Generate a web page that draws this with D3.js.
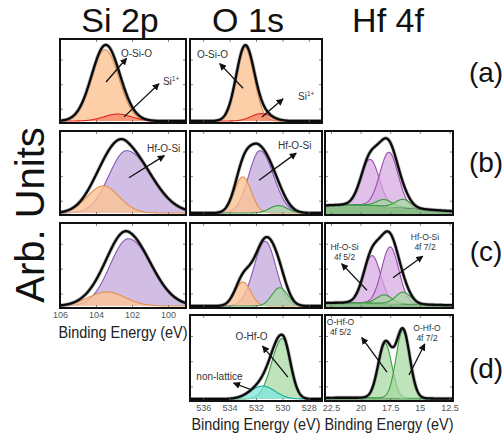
<!DOCTYPE html>
<html>
<head>
<meta charset="utf-8">
<script src="https://cdn.jsdelivr.net/npm/d3@7"></script>
<style>
  body { margin: 0; background: #fff; }
  svg { display: block; font-family: "Liberation Sans", Arial, Helvetica, sans-serif; }
</style>
</head>
<body>
<svg id="chart" width="504" height="438"></svg>
<script>
// Core levels (columns) and samples (rows)
const coreLevels = ["Si 2p", "O 1s", "Hf 4f"];
const sampleLabels = ["(a)", "(b)", "(c)", "(d)"];
const axisTitle = "Binding Energy (eV)";
const yTitle = "Arb. Units";

// Binding-energy windows (eV), high to low
const siRange = [106, 99];
const oRange = [537, 527];
const hfRange = [23, 12.2];

// Labelled binding-energy ticks
const siTicks = [106, 104, 102, 100];
const oTicks = [536, 534, 532, 530, 528];
const hfTicks = [22.5, 20, 17.5, 15, 12.5];
const intensityTicks = [0.15, 0.45, 0.75];

// Fitted components: [species, centre (eV), height, HWHM high-BE side, HWHM low-BE side]
const siA = [
  ["O-Si-O", 103.5, 0.87, 0.9, 0.9],
  ["Si1+", 102.8, 0.085, 0.9, 0.9]
];
const oA = [
  ["O-Si-O", 532.83, 0.9, 0.8, 0.8],
  ["Si1+", 531.6, 0.09, 0.9, 0.9]
];
const siB = [
  ["Hf-O-Si", 102.3, 0.76, 1.15, 1.6],
  ["O-Si-O", 103.6, 0.33, 1.05, 1.05]
];
const oB = [
  ["Hf-O-Si", 531.7, 0.76, 1.0, 1.2],
  ["O-Si-O", 533.0, 0.44, 0.75, 0.75],
  ["O-Hf-O", 530.3, 0.09, 0.8, 0.8]
];
const hfB = [
  ["background", 21, 0.1, 6, 6],
  ["Hf-O-Si 4f5/2", 19.2, 0.56, 0.9, 0.9],
  ["Hf-O-Si 4f7/2", 17.6, 0.66, 0.9, 0.9],
  ["O-Hf-O 4f5/2", 18.0, 0.08, 0.75, 0.75],
  ["O-Hf-O 4f7/2", 16.4, 0.10, 0.75, 0.75]
];
const siC = [
  ["Hf-O-Si", 102.2, 0.81, 1.2, 1.5],
  ["O-Si-O", 103.4, 0.17, 1.2, 1.2]
];
const oC = [
  ["Hf-O-Si", 531.3, 0.78, 1.0, 0.95],
  ["O-Si-O", 533.0, 0.29, 0.7, 0.7],
  ["O-Hf-O", 530.2, 0.22, 0.7, 0.7]
];
const hfC = [
  ["background", 21, 0.04, 6, 6],
  ["Hf-O-Si 4f5/2", 19.03, 0.57, 0.85, 0.85],
  ["Hf-O-Si 4f7/2", 17.5, 0.68, 0.85, 0.85],
  ["O-Hf-O 4f5/2", 18.0, 0.10, 0.75, 0.75],
  ["O-Hf-O 4f7/2", 16.4, 0.14, 0.75, 0.75]
];
const oD = [
  ["O-Hf-O", 530.0, 0.72, 0.95, 0.7],
  ["non-lattice", 531.5, 0.155, 1.1, 1.1]
];
const hfD = [
  ["background", 21, 0.015, 6, 6],
  ["O-Hf-O 4f5/2", 17.94, 0.65, 0.68, 0.68],
  ["O-Hf-O 4f7/2", 16.42, 0.81, 0.68, 0.68]
];

// ---- layout ----
const colX = [[60, 186], [190, 322], [325, 453]];
const rowY = [[39, 123], [131, 215], [223, 308], [315, 401]];
const ranges = [siRange, oRange, hfRange];
const tickSets = [siTicks, oTicks, hfTicks];

const panels = [
  { col: 0, row: 0, comps: siA },
  { col: 1, row: 0, comps: oA },
  { col: 0, row: 1, comps: siB },
  { col: 1, row: 1, comps: oB },
  { col: 2, row: 1, comps: hfB },
  { col: 0, row: 2, comps: siC, labelled: true },
  { col: 1, row: 2, comps: oC },
  { col: 2, row: 2, comps: hfC },
  { col: 1, row: 3, comps: oD, labelled: true },
  { col: 2, row: 3, comps: hfD, labelled: true }
];

// Callouts, anchored in (eV, intensity) of their panel
const callouts = [
  { panel: 0, lines: ["O-Si-O"], at: [102.61, 0.78], anchor: "start", from: [103.44, 0.476], to: [102.3, 0.765] },
  { panel: 0, lines: ["Si"], sup: "1+", at: [100.28, 0.44], anchor: "start", from: [102.44, 0.05], to: [100.5, 0.455] },
  { panel: 1, lines: ["O-Si-O"], at: [536.47, 0.77], anchor: "start", from: [532.98, 0.40], to: [534.75, 0.70] },
  { panel: 1, lines: ["Si"], sup: "1+", at: [528.82, 0.256], anchor: "start", from: [531.55, 0.05], to: [529.95, 0.27] },
  { panel: 2, lines: ["Hf-O-Si"], at: [101.17, 0.74], anchor: "start", from: [102.17, 0.43], to: [100.2, 0.70] },
  { panel: 3, lines: ["Hf-O-Si"], at: [530.33, 0.78], anchor: "start", from: [531.77, 0.40], to: [528.95, 0.73] },
  { panel: 7, lines: ["Hf-O-Si", "4f 5/2"], at: [21.35, 0.68], anchor: "middle", from: [19.46, 0.19], to: [21.6, 0.51] },
  { panel: 7, lines: ["Hf-O-Si", "4f 7/2"], at: [14.56, 0.79], anchor: "middle", from: [17.26, 0.34], to: [14.75, 0.6] },
  { panel: 8, lines: ["O-Hf-O"], at: [532.34, 0.70], anchor: "middle", from: [529.58, 0.26], to: [531.5, 0.63] },
  { panel: 8, lines: ["non-lattice"], at: [534.77, 0.226], anchor: "middle", from: [532.3, 0.107], to: [533.7, 0.19] },
  { panel: 9, lines: ["O-Hf-O", "4f 5/2"], at: [21.69, 0.88], anchor: "middle", from: [17.77, 0.32], to: [19.9, 0.73] },
  { panel: 9, lines: ["O-Hf-O", "4f 7/2"], at: [14.39, 0.81], anchor: "middle", from: [15.91, 0.286], to: [14.58, 0.655] }
];

// Component colours by species
function speciesStyle(name) {
  if (name === "background") return { fill: "#74b374", stroke: "#4d934f", op: 0.85 };
  if (name === "Si1+") return { fill: "#f2684e", stroke: "#e3261b", op: 0.55 };
  if (name === "O-Si-O") return { fill: "#fcc393", stroke: "#e4924c", op: 0.8 };
  if (name.startsWith("Hf-O-Si 4f")) return { fill: "#d6a9e0", stroke: "#9a4cb0", op: 0.72 };
  if (name === "Hf-O-Si") return { fill: "#c3a8dc", stroke: "#8757b6", op: 0.75 };
  if (name.startsWith("O-Hf-O")) return { fill: "#a6d8a0", stroke: "#3a9c42", op: 0.72 };
  if (name === "non-lattice") return { fill: "#7ee6dc", stroke: "#17ada3", op: 0.75 };
  return { fill: "#ccc", stroke: "#888", op: 0.7 };
}

// Asymmetric Gaussian line shape
function lineShape(c, E) {
  const [, c0, h, wHigh, wLow] = c;
  const w = E > c0 ? wHigh : wLow;
  const d = (E - c0) / w;
  return h * Math.exp(-Math.LN2 * d * d);
}

const svg = d3.select("#chart");
const defs = svg.append("defs");
defs.append("marker")
  .attr("id", "head")
  .attr("viewBox", "0 0 10 10")
  .attr("refX", 9).attr("refY", 5)
  .attr("markerWidth", 5.5).attr("markerHeight", 5.5)
  .attr("orient", "auto")
  .append("path").attr("d", "M0,0 L10,5 L0,10 z").attr("fill", "#111");

const scales = [];

panels.forEach((p, i) => {
  const [x0, x1] = colX[p.col];
  const [y0, y1] = rowY[p.row];
  const x = d3.scaleLinear().domain(ranges[p.col]).range([x0, x1]);
  const y = d3.scaleLinear().domain([0, 1]).range([y1 - 2, y0]);
  scales.push({ x, y });

  defs.append("clipPath").attr("id", "clip" + i)
    .append("rect").attr("x", x0).attr("y", y0).attr("width", x1 - x0).attr("height", y1 - y0);

  const g = svg.append("g");
  g.append("rect").attr("x", x0).attr("y", y0).attr("width", x1 - x0).attr("height", y1 - y0).attr("fill", "#fff");
  const plot = g.append("g").attr("clip-path", `url(#clip${i})`);

  const dom = ranges[p.col];
  const n = 500;
  const grid = d3.range(n + 1).map(k => dom[0] + (dom[1] - dom[0]) * k / n);
  const bgComps = p.comps.filter(c => c[0] === "background");
  const fitComps = p.comps.filter(c => c[0] !== "background");
  const bg = E => d3.sum(bgComps, c => lineShape(c, E));

  if (bgComps.length) {
    const st = speciesStyle("background");
    plot.append("path").datum(grid)
      .attr("d", d3.area().x(E => x(E)).y0(y(-0.1)).y1(E => y(bg(E))))
      .attr("fill", st.fill).attr("fill-opacity", st.op);
    plot.append("path").datum(grid)
      .attr("d", d3.line().x(E => x(E)).y(E => y(bg(E))))
      .attr("fill", "none").attr("stroke", st.stroke).attr("stroke-width", 1);
  }

  fitComps.forEach(c => {
    const st = speciesStyle(c[0]);
    plot.append("path").datum(grid)
      .attr("d", d3.area().x(E => x(E)).y0(E => y(bg(E))).y1(E => y(bg(E) + lineShape(c, E))))
      .attr("fill", st.fill).attr("fill-opacity", st.op);
    plot.append("path").datum(grid)
      .attr("d", d3.line().x(E => x(E)).y(E => y(bg(E) + lineShape(c, E))))
      .attr("fill", "none").attr("stroke", st.stroke).attr("stroke-width", 1.1);
  });

  // Envelope (sum of all components) over the measured spectrum
  const env = E => bg(E) + d3.sum(fitComps, c => lineShape(c, E));
  const envLine = d3.line().x(E => x(E)).y(E => y(env(E)));
  plot.append("path").datum(grid).attr("d", envLine)
    .attr("fill", "none").attr("stroke", "#666").attr("stroke-opacity", 0.45).attr("stroke-width", 3.8);
  plot.append("path").datum(grid).attr("d", envLine)
    .attr("fill", "none").attr("stroke", "#0a0a0a").attr("stroke-width", 2.3);

  // inner ticks on all four sides
  const tickStyle = sel => {
    sel.select(".domain").remove();
    sel.selectAll(".tick line").attr("stroke", "#666").attr("stroke-width", 0.8);
  };
  g.append("g").attr("transform", `translate(${x0},0)`)
    .call(d3.axisLeft(y).tickValues(intensityTicks).tickSize(-3).tickFormat(""))
    .call(tickStyle);
  g.append("g").attr("transform", `translate(${x1},0)`)
    .call(d3.axisRight(y).tickValues(intensityTicks).tickSize(-3).tickFormat(""))
    .call(tickStyle);
  g.append("g").attr("transform", `translate(0,${y0})`)
    .call(d3.axisTop(x).tickValues(tickSets[p.col]).tickSize(-3).tickFormat(""))
    .call(tickStyle);
  const bottom = g.append("g").attr("transform", `translate(0,${y1})`)
    .call(d3.axisBottom(x).tickValues(tickSets[p.col]).tickSize(-3).tickPadding(3.5)
      .tickFormat(p.labelled ? d3.format("") : ""))
    .call(tickStyle);
  bottom.selectAll(".tick text").attr("font-size", 9).attr("fill", "#555")
    .attr("font-family", "Liberation Sans, Arial, sans-serif");

  // frame
  g.append("rect").attr("x", x0).attr("y", y0).attr("width", x1 - x0).attr("height", y1 - y0)
    .attr("fill", "none").attr("stroke", "#111").attr("stroke-width", 2);

  if (p.labelled) {
    g.append("text").attr("x", (x0 + x1) / 2).attr("y", p.row === 2 ? 338 : 430)
      .attr("text-anchor", "middle").attr("font-size", 16).attr("fill", "#222")
      .attr("textLength", 129).attr("lengthAdjust", "spacingAndGlyphs")
      .text(axisTitle);
  }
});

// callouts
callouts.forEach(a => {
  const { x, y } = scales[a.panel];
  svg.append("line")
    .attr("x1", x(a.from[0])).attr("y1", y(a.from[1]))
    .attr("x2", x(a.to[0])).attr("y2", y(a.to[1]))
    .attr("stroke", "#111").attr("stroke-width", 1.3)
    .attr("marker-end", "url(#head)");
  const multi = a.lines.length > 1;
  const t = svg.append("text")
    .attr("x", x(a.at[0])).attr("y", y(a.at[1]))
    .attr("text-anchor", a.anchor).attr("font-size", multi ? 8.5 : 10).attr("fill", "#333");
  a.lines.forEach((ln, k) => {
    t.append("tspan").attr("x", x(a.at[0])).attr("dy", k === 0 ? 0 : 10).text(ln);
  });
  if (a.sup) {
    t.append("tspan").attr("dy", -4).attr("font-size", 6.5).text(a.sup);
  }
});

// column titles
const titleX = [120, 248, 388];
coreLevels.forEach((name, k) => {
  svg.append("text").attr("x", titleX[k]).attr("y", 32)
    .attr("text-anchor", "middle").attr("font-size", 34).attr("fill", "#111").text(name);
});

// row labels
const rowBaseline = [82, 172, 261, 378];
sampleLabels.forEach((lab, k) => {
  svg.append("text").attr("x", 486).attr("y", rowBaseline[k])
    .attr("text-anchor", "middle").attr("font-size", 28).attr("fill", "#111").text(lab);
});

// y title
svg.append("text").attr("transform", "translate(44,215) rotate(-90)")
  .attr("text-anchor", "middle").attr("font-size", 40).attr("fill", "#111").text(yTitle);
</script>
</body>
</html>
